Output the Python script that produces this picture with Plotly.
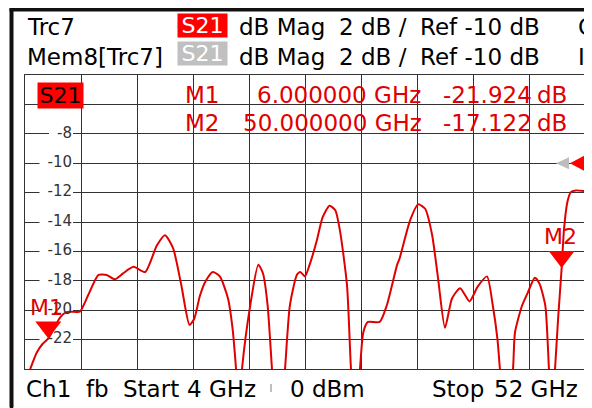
import plotly.graph_objects as go

# ---------------- data ----------------
freq_ghz = [4.0, 4.45, 5.0, 5.5, 6.0, 6.5, 7.0, 7.5, 8.0, 8.7, 9.4, 10.3, 11.0, 11.7,
            12.4, 13.3, 14.3, 15.3, 16.0, 16.7, 17.4, 18.1, 18.5, 19.0, 19.5, 20.1,
            20.7, 21.4, 21.8, 22.09, 22.35, 22.6, 23.3, 24.0, 24.4, 24.8, 25.17, 25.73,
            26.29, 26.7, 27.3, 27.6, 28.0, 28.4, 29.0, 29.5, 30.1, 30.6, 31.0, 31.6,
            31.94, 32.3, 32.71, 33.0, 33.4, 34.4, 35.0, 35.9, 36.1, 37.0, 37.7, 38.3,
            38.9, 39.4, 40.0, 40.6, 41.3, 42.1, 42.8, 43.6, 44.1, 44.5, 44.71, 45.27,
            45.83, 46.0, 46.6, 47.1, 47.7, 48.1, 48.6, 48.91, 49.15, 49.43, 49.7, 50.0,
            50.2, 50.5, 50.8, 51.2, 52.0]
s21_db = [-25.0, -24.0, -22.9, -22.3, -21.924, -21.2, -20.5, -20.15, -20.1, -20.1, -19.0,
          -17.6, -17.6, -17.9, -17.5, -17.05, -17.4, -15.6, -14.9, -15.8, -18.3, -21.0,
          -20.6, -19.0, -18.0, -17.4, -17.7, -19.2, -21.3, -24.0, -27.0, -24.0, -19.7,
          -16.9, -17.5, -19.7, -24.0, -30.0, -24.0, -19.7, -17.6, -17.4, -17.7, -16.9,
          -15.3, -13.7, -12.9, -13.2, -14.6, -18.3, -24.0, -28.0, -24.0, -21.5, -20.8,
          -20.8, -19.7, -16.9, -16.5, -13.9, -12.8, -13.1, -14.9, -17.8, -21.2, -19.2,
          -18.5, -19.4, -18.4, -17.7, -19.7, -22.0, -24.0, -28.0, -24.0, -21.5, -19.7,
          -18.8, -17.8, -18.2, -19.7, -24.0, -27.0, -24.0, -20.5, -17.122, -14.5, -12.6,
          -11.95, -11.85, -11.9]
y_tick_values = [-6, -8, -10, -12, -14, -16, -18, -20, -22]
y_tick_labels = ["-6", "-8", "-10", "-12", "-14", "-16", "-18", "-20", "-22"]
marker_names = ["M1", "M2"]
marker_freq = [6.0, 50.0]
marker_db = [-21.924, -17.122]
marker_freq_text = ["6.000000 GHz", "50.000000 GHz"]
marker_db_text = ["-21.924", "-17.122"]
ref_level = -10
start_ghz, stop_ghz = 4, 52
y_top, y_bottom = -4, -24
div_x = (stop_ghz - start_ghz) / 10

# ---------------- helpers ----------------
# the page body adds an 8 px margin, so the figure is made 8 px smaller and
# all positions below are given in window pixels, shifted by that margin
OFF = 8
W, H = 592 - OFF, 408 - OFF
FONT = "DejaVu Sans"
RED = "#e00000"
FRAME = "#111111"
GRID_L, GRID_R, GRID_T, GRID_B = 25, 585, 75, 369


def px(x):
    return (x - OFF) / W


def py(y):
    return 1 - (y - OFF) / H


def txt(s, x, y, size=23, color="black", anchor="left", **kw):
    return dict(text=s, x=px(x), y=py(y), xref="paper", yref="paper",
                xanchor=anchor, yanchor="middle", showarrow=False,
                font=dict(family=FONT, size=size, color=color), **kw)


fig = go.Figure()
fig.add_trace(go.Scatter(x=freq_ghz, y=s21_db, mode="lines",
                         line=dict(color=RED, width=2, shape="spline", smoothing=0.6),
                         hoverinfo="skip", showlegend=False))

# y tick labels inside the grid (text trace, with white patches behind them)
label_right_ghz = start_ghz + (72 - GRID_L) / (GRID_R - GRID_L) * (stop_ghz - start_ghz)
fig.add_trace(go.Scatter(x=[label_right_ghz] * len(y_tick_values), y=y_tick_values,
                         mode="text", text=y_tick_labels, textposition="middle left",
                         cliponaxis=False,
                         textfont=dict(family=FONT, size=15, color="#333333"),
                         hoverinfo="skip", showlegend=False))

annotations = []
# outer frame of the instrument screen (left and top), as solid boxes
annotations.append(dict(text="\u00a0", x=px(11.5), y=py(208), xref="paper", yref="paper",
                        xanchor="center", yanchor="middle", showarrow=False,
                        width=3, height=398, borderpad=0, bgcolor=FRAME,
                        font=dict(size=1)))
annotations.append(dict(text="\u00a0", x=px(300), y=py(9.5), xref="paper", yref="paper",
                        xanchor="center", yanchor="middle", showarrow=False,
                        width=580, height=3, borderpad=0, bgcolor=FRAME,
                        font=dict(size=1)))
# header
for row_y, name in [(27.5, "Trc7"), (57, "Mem8[Trc7]")]:
    annotations.append(txt(name, 25, row_y))
    annotations.append(txt("dB Mag", 237, row_y))
    annotations.append(txt("2 dB /", 337, row_y))
    annotations.append(txt("Ref -10 dB", 418, row_y))
annotations.append(txt("C", 576, 27.5))
annotations.append(txt("In", 576, 57))
annotations.append(dict(text="S21", x=px(202.5), y=py(25.5), xref="paper", yref="paper",
                        xanchor="center", yanchor="middle", showarrow=False,
                        width=49, height=23, borderpad=0, bgcolor="#ff0000",
                        font=dict(family=FONT, size=22, color="white")))
annotations.append(dict(text="S21", x=px(202.5), y=py(53.5), xref="paper", yref="paper",
                        xanchor="center", yanchor="middle", showarrow=False,
                        width=49, height=23, borderpad=0, bgcolor="#c0c0c0",
                        font=dict(family=FONT, size=22, color="white")))

# trace label box
annotations.append(dict(text="S21", x=px(60.5), y=py(96), xref="paper", yref="paper",
                        xanchor="center", yanchor="middle", showarrow=False,
                        width=45, height=25, borderpad=0, bgcolor="#ff0000",
                        font=dict(family=FONT, size=22, color="black")))

# marker readout
for i, row_y in enumerate([94.5, 123]):
    annotations.append(txt(marker_names[i], 183, row_y, color=RED))
    annotations.append(txt(marker_freq_text[i], 255 if i == 0 else 241, row_y, color=RED))
    annotations.append(txt(marker_db_text[i], 441, row_y, color=RED))
    annotations.append(txt("dB", 535, row_y, color=RED))

# marker labels on the trace
for i in range(2):
    annotations.append(dict(text=marker_names[i], x=marker_freq[i], y=marker_db[i],
                            xref="x", yref="y", xanchor="center", yanchor="middle",
                            yshift=31, xshift=-2 if i == 0 else -1, showarrow=False,
                            font=dict(family=FONT, size=22, color=RED)))

# footer
for s, x in [("Ch1", 24), ("fb", 84), ("Start", 121), ("4 GHz", 185), ("0 dBm", 288),
             ("Stop", 430), ("52 GHz", 492)]:
    annotations.append(txt(s, x, 388.5))

shapes = []
# outer frame as lines too (drawn first)
shapes.append(dict(type="line", xref="paper", yref="paper", x0=px(11.5), x1=px(11.5),
                   y0=0.0, y1=py(9), line=dict(color=FRAME, width=3), layer="above"))
shapes.append(dict(type="line", xref="paper", yref="paper", x0=px(10), x1=0.99,
                   y0=py(9.5), y1=py(9.5), line=dict(color=FRAME, width=3),
                   layer="above"))
# white patches behind the y tick labels (between grid and traces)
for v, lab in zip(y_tick_values, y_tick_labels):
    w = 9.5 * len(lab) + 4
    shapes.append(dict(type="rect", xref="x", yref="y", xsizemode="pixel",
                       ysizemode="pixel", xanchor=label_right_ghz, yanchor=v,
                       x0=-w, x1=1, y0=-7, y1=7, fillcolor="white",
                       line=dict(width=0), layer="between"))
# marker triangles
for i in range(2):
    shapes.append(dict(type="path", xref="x", yref="y", xsizemode="pixel", ysizemode="pixel",
                       xanchor=marker_freq[i], yanchor=marker_db[i],
                       path="M -13,17 L 13,17 L 0,0 Z", fillcolor="#ff0000",
                       line=dict(width=0), layer="above"))
# reference level arrows
shapes.append(dict(type="path", xref="x", yref="y", xsizemode="pixel", ysizemode="pixel",
                   xanchor=stop_ghz, yanchor=ref_level,
                   path="M -29,0 L -16,6 L -16,-6 Z", fillcolor="#bdbdbd",
                   line=dict(width=0), layer="above"))
shapes.append(dict(type="path", xref="x", yref="y", xsizemode="pixel", ysizemode="pixel",
                   xanchor=stop_ghz, yanchor=ref_level,
                   path="M -15,0 L 0,8 L 0,-8 Z", fillcolor="#ff0000",
                   line=dict(width=0), layer="above"))
# small mark in footer
shapes.append(dict(type="line", xref="paper", yref="paper", x0=px(271), x1=px(271),
                   y0=py(384), y1=py(392), line=dict(color="#aaaaaa", width=1.5)))

axis_common = dict(showgrid=True, gridcolor="#333333", gridwidth=1, showticklabels=False,
                   ticks="", zeroline=False, showline=True, mirror=True,
                   linecolor="#333333", linewidth=1, fixedrange=True)

fig.update_layout(
    width=W, height=H,
    margin=dict(l=0, r=0, t=0, b=0),
    paper_bgcolor="white", plot_bgcolor="white",
    xaxis=dict(domain=[px(GRID_L), px(GRID_R)], range=[start_ghz, stop_ghz],
               tick0=start_ghz, dtick=div_x, **axis_common),
    yaxis=dict(domain=[py(GRID_B), py(GRID_T)], range=[y_bottom, y_top], tick0=y_bottom,
               dtick=2, **axis_common),
    annotations=annotations,
    shapes=shapes,
    showlegend=False,
)

fig.write_html("out.html")
